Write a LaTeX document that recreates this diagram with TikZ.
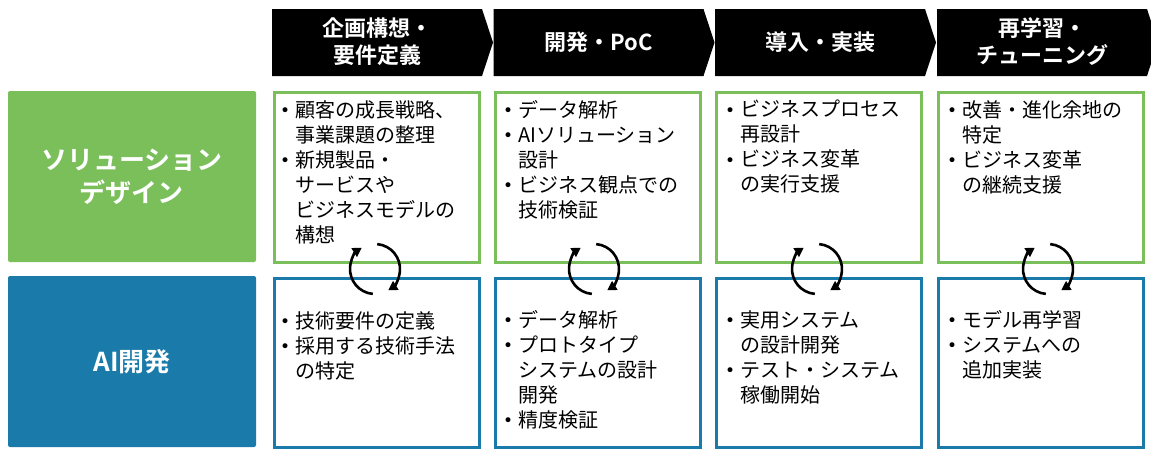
\documentclass[tikz,border=0pt]{standalone}
\usepackage{fontspec}
\setmainfont{Noto Sans CJK JP}[BoldFont={Noto Sans CJK JP Bold}]
\newfontfamily\bulfont{DejaVu Sans}
\usetikzlibrary{arrows.meta}
\definecolor{sgreen}{HTML}{7ABF5A}
\definecolor{sblue}{HTML}{1A7BAA}
\newcommand{\bul}{\makebox[20pt][c]{\bulfont\fontsize{17}{17}\selectfont\raisebox{0.5pt}{•}}}
\newcommand{\ind}{\hspace*{20pt}}
\begin{document}
\begin{tikzpicture}[x=1pt,y=-1pt,
  phase/.style={fill=black},
  phasetext/.style={text=white,font=\bfseries\fontsize{22}{27}\selectfont,align=center,inner sep=0pt},
  rowlabel/.style={rounded corners=2pt,minimum width=248pt,minimum height=171pt,inner sep=0pt,
     text=white,font=\bfseries\fontsize{26}{33}\selectfont,align=center},
  gbox/.style={draw=sgreen,line width=3pt,minimum width=205pt,minimum height=170pt,anchor=north west,inner sep=0pt},
  bbox/.style={draw=sblue,line width=3pt,minimum width=205pt,minimum height=169pt,anchor=north west,inner sep=0pt},
  btext/.style={anchor=north west,inner sep=0pt,align=left,font=\fontsize{20}{25}\selectfont},
  cyc/.style={line width=2.6pt,-{Triangle[length=9pt,width=10pt]}}
]
\useasboundingbox (0,0) rectangle (1151,448);
% phase chevrons
\foreach \x/\n in {272/1,493.5/2,715/3,937/4}{
  \fill (\x,9) -- (\x+210,9) -- (\x+221,42.5) -- (\x+210,76) -- (\x,76) -- cycle;
}
\node[phasetext] (p1) at (377,41.5) {企画構想・\\要件定義};
\node[phasetext] (p2) at (598.5,42.5) {開発・PoC};
\node[phasetext] (p3) at (820,42.5) {導入・実装};
\node[phasetext] (p4) at (1042,41.5) {再学習・\\チューニング};
% row labels
\node[rowlabel,fill=sgreen] (sd) at (132,176.5) {ソリューション\\デザイン};
\node[rowlabel,fill=sblue] (ai) at (132,361.5) {AI開発};
% content boxes
\node[gbox] (g1) at (273,91) {};
\node[gbox] (g2) at (494,91) {};
\node[gbox] (g3) at (715,91) {};
\node[gbox] (g4) at (937,91) {};
\node[bbox] (b1) at (273,277) {};
\node[bbox] (b2) at (494,277) {};
\node[bbox] (b3) at (715,277) {};
\node[bbox] (b4) at (937,277) {};
% texts
\node[btext] (tg1) at (275,100) {\bul 顧客の成長戦略、\\ \ind 事業課題の整理\\ \bul 新規製品・\\ \ind サービスや\\ \ind ビジネスモデルの\\ \ind 構想};
\node[btext] (tg2) at (498,100) {\bul データ解析\\ \bul AIソリューション\\ \ind 設計\\ \bul ビジネス観点での\\ \ind 技術検証};
\node[btext] (tg3) at (720,100) {\bul ビジネスプロセス\\ \ind 再設計\\ \bul ビジネス変革\\ \ind の実行支援};
\node[btext] (tg4) at (942,100) {\bul 改善・進化余地の\\ \ind 特定\\ \bul ビジネス変革\\ \ind の継続支援};
\node[btext] (tb1) at (275,311) {\bul 技術要件の定義\\ \bul 採用する技術手法\\ \ind の特定};
\node[btext] (tb2) at (498,310) {\bul データ解析\\ \bul プロトタイプ\\ \ind システムの設計\\ \ind 開発\\ \bul 精度検証};
\node[btext] (tb3) at (720,310) {\bul 実用システム\\ \ind の設計開発\\ \bul テスト・システム\\ \ind 稼働開始};
\node[btext] (tb4) at (942,310) {\bul モデル再学習\\ \bul システムへの\\ \ind 追加実装};
% cycle arrows
\foreach \cx/\n in {375/1,594/2,817/3,1048/4}{
  \coordinate (c\n) at (\cx,269);
  \draw[cyc] (c\n) ++(-85:25) arc[start angle=-85,end angle=58,radius=25];
  \draw[cyc] (c\n) ++(95:25) arc[start angle=95,end angle=238,radius=25];
}
\end{tikzpicture}
\end{document}
